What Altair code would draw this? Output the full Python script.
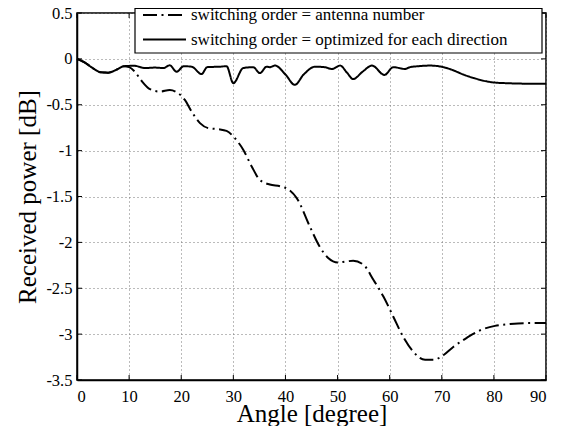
import altair as alt
import pandas as pd

# ---- data ----
series_names = ["switching order = antenna number",
                "switching order = optimized for each direction"]

opt_x = [0, 1.5, 3, 4.5, 6, 7.5, 9, 11, 13, 15, 16.6, 17.8, 19.1, 20.5, 22, 23.9, 25,
         27.4, 28.7, 30, 31.9, 33.8, 35.1, 36.4, 37, 38, 40, 41.8, 43.5, 45.7, 47.5,
         48.9, 50.5, 51.8, 53, 54.8, 56.6, 59, 60.7, 62.9, 63.9, 65.5, 67.7, 70.3, 72,
         74.1, 76.5, 78.6, 80.5, 82.5, 86, 90]
opt_y = [0, -0.04, -0.10, -0.145, -0.15, -0.12, -0.08, -0.075, -0.10, -0.095, -0.10,
         -0.07, -0.14, -0.08, -0.085, -0.165, -0.09, -0.085, -0.08, -0.265, -0.10,
         -0.09, -0.155, -0.085, -0.09, -0.073, -0.17, -0.283, -0.17, -0.085, -0.09,
         -0.11, -0.073, -0.15, -0.22, -0.14, -0.073, -0.175, -0.09, -0.11, -0.09,
         -0.08, -0.073, -0.09, -0.12, -0.17, -0.215, -0.245, -0.26, -0.265, -0.27, -0.27]

ant_x = [0, 1.5, 3, 4.5, 6, 7.5, 9, 10, 11.1, 12.4, 14, 15.9, 17.8, 19.4, 20.7, 22,
         23.6, 25.2, 27.1, 28.7, 30.3, 31.9, 33.5, 35.1, 37, 39, 40.5, 42.2, 44.7,
         46.6, 48.2, 50.1, 51.5, 53, 55, 56.9, 58.8, 60.7, 62.6, 64.5, 66.8, 68.4,
         70.3, 72.2, 74.8, 77.3, 80.2, 83.1, 86, 90]
ant_y = [0, -0.04, -0.10, -0.145, -0.15, -0.12, -0.08, -0.09, -0.14, -0.24, -0.33,
         -0.356, -0.34, -0.374, -0.447, -0.574, -0.70, -0.755, -0.766, -0.785, -0.865,
         -0.99, -1.17, -1.32, -1.37, -1.39, -1.42, -1.52, -1.83, -2.05, -2.17, -2.22,
         -2.21, -2.20, -2.245, -2.41, -2.59, -2.81, -3.03, -3.19, -3.28, -3.28, -3.23,
         -3.14, -3.04, -2.96, -2.91, -2.89, -2.88, -2.88]

x_ticks = [0, 10, 20, 30, 40, 50, 60, 70, 80, 90]
y_ticks = [-3.5, -3, -2.5, -2, -1.5, -1, -0.5, 0, 0.5]

W, H = 469, 367
FONT = "Liberation Serif"

df = pd.concat([
    pd.DataFrame({"angle": ant_x, "power": ant_y, "series": series_names[0], "o": range(len(ant_x))}),
    pd.DataFrame({"angle": opt_x, "power": opt_y, "series": series_names[1], "o": range(len(opt_x))}),
])

dash_ant = [14, 4.5, 2, 4.5]
dash_opt = [1, 0]

xscale = alt.Scale(domain=[0, 90], nice=False, zero=False)
yscale = alt.Scale(domain=[-3.5, 0.5], nice=False, zero=False)

lbl = "datum.value < 0 ? '-' + format(-datum.value, '') : format(datum.value, '')"
common = dict(grid=True, ticks=False, tickSize=0, labelExpr=lbl,
              labelFont=FONT, labelFontSize=16.5, labelColor="black",
              titleFont=FONT, titleFontSize=25, titleFontWeight="normal", titleColor="black",
              titleBaseline="alphabetic", titleAlign="center",
              domainColor="black", domainWidth=1.5,
              gridColor="#777777", gridDash=[1, 3], gridWidth=1)
xaxis = alt.Axis(values=x_ticks, title="Angle [degree]", labelPadding=21.5,
                 labelBaseline="alphabetic", titleX=W / 2, titleY=41, **common)
yaxis = alt.Axis(values=y_ticks, title="Received power [dB]", labelPadding=5,
                 titleAngle=270, titleX=-42, titleY=H / 2, **common)

lines = alt.Chart(df).mark_line(color="black", strokeWidth=2, interpolate="monotone").encode(
    x=alt.X("angle:Q", scale=xscale, axis=xaxis),
    y=alt.Y("power:Q", scale=yscale, axis=yaxis),
    strokeDash=alt.StrokeDash("series:N",
                              scale=alt.Scale(domain=series_names, range=[dash_ant, dash_opt]),
                              legend=None),
    detail="series:N",
    order="o:Q",
)

xt = pd.DataFrame({"v": x_ticks})
yt = pd.DataFrame({"v": y_ticks})
tick_b = alt.Chart(xt).mark_rule(color="black", strokeWidth=1).encode(
    x=alt.X("v:Q", scale=xscale, axis=xaxis), y=alt.value(H), y2=alt.value(H - 5))
tick_t = alt.Chart(xt).mark_rule(color="black", strokeWidth=1).encode(
    x=alt.X("v:Q", scale=xscale, axis=xaxis), y=alt.value(0), y2=alt.value(5))
tick_l = alt.Chart(yt).mark_rule(color="black", strokeWidth=1).encode(
    y=alt.Y("v:Q", scale=yscale, axis=yaxis), x=alt.value(0), x2=alt.value(5))
tick_r = alt.Chart(yt).mark_rule(color="black", strokeWidth=1).encode(
    y=alt.Y("v:Q", scale=yscale, axis=yaxis), x=alt.value(W), x2=alt.value(W - 5))

# legend box (pixel space, top of the plot)
LX0, LX1, LY0, LY1 = 58, 465, -4.5, 40
ROWS = [2, 26.5]
one = pd.DataFrame({"a": [0]})
leg_box = alt.Chart(one).mark_rect(
    fill="white", stroke="black", strokeWidth=1.2).encode(
    x=alt.value(LX0), x2=alt.value(LX1), y=alt.value(LY0), y2=alt.value(LY1))
leg_layers = []
for name, dash, row in zip(series_names, [dash_ant, dash_opt], ROWS):
    leg_layers.append(alt.Chart(one).mark_rule(color="black", strokeWidth=2, strokeDash=dash).encode(
        x=alt.value(66), x2=alt.value(109), y=alt.value(row)))
    leg_layers.append(alt.Chart(one).mark_text(
        align="left", baseline="middle", font=FONT, fontSize=17, color="black", text=name).encode(
        x=alt.value(114), y=alt.value(row)))

chart = alt.layer(lines, tick_b, tick_t, tick_l, tick_r, leg_box, *leg_layers).properties(
    width=W, height=H,
    autosize=alt.AutoSizeParams(type="none"),
    padding={"left": 69, "top": 5, "right": 8, "bottom": 46},
).configure_view(
    stroke="black", strokeWidth=1.5
)

chart.save("out.html", embed_options={"renderer": "svg", "actions": False})
